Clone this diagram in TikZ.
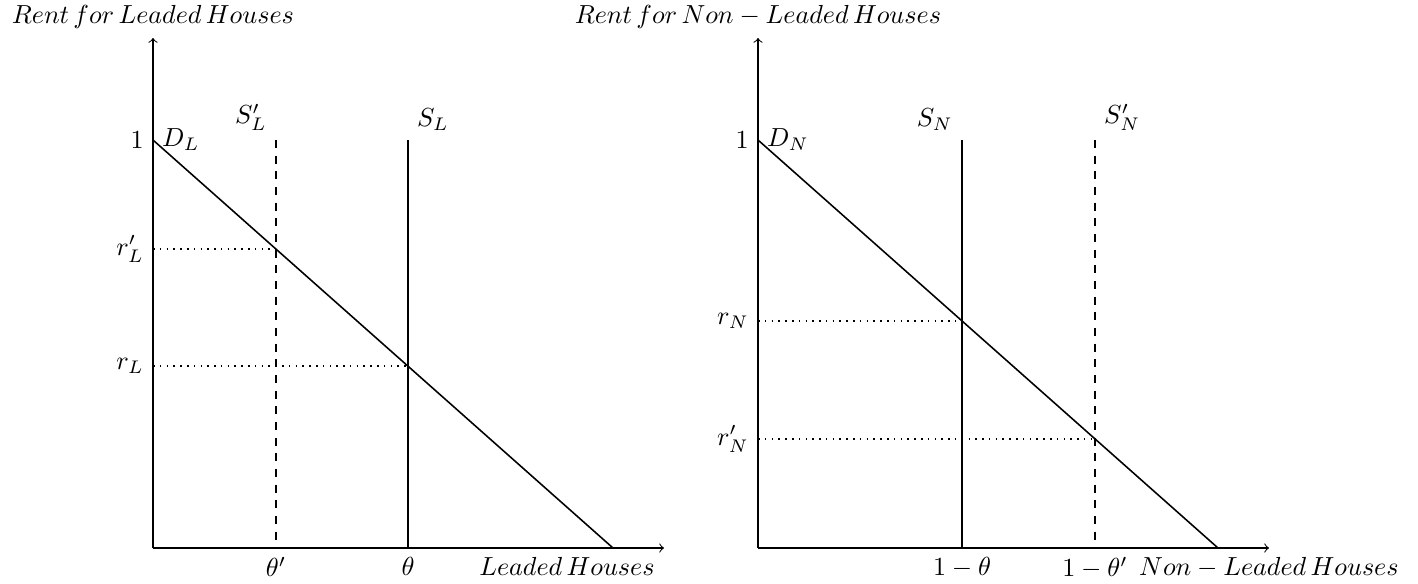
\documentclass[tikz,border=0pt]{standalone}
\tikzset{
  axisline/.style={->, line width=0.4pt},
  demandline/.style={line width=0.6pt},
  supplyline/.style={line width=0.6pt},
  supplyshift/.style={line width=0.6pt, dashed},
  guideline/.style={line width=0.6pt, dotted},
}
\begin{document}
\begin{tikzpicture}[x=0.013456cm, y=-0.013456cm]
\useasboundingbox (0,0) rectangle (1418,583);
% ---------- left panel ----------
\coordinate (Lo) at (153,548);
\coordinate (Ly) at (153,38);
\coordinate (Lx) at (664,548);
\coordinate (L1) at (153,140);
\coordinate (Ld) at (613,548);
\coordinate (Lsp) at (276,140);
\coordinate (Lspb) at (276,548);
\coordinate (Ls) at (408,140);
\coordinate (Lsb) at (408,548);
\coordinate (Lrp) at (153,249.1);
\coordinate (Lrpe) at (276,249.1);
\coordinate (Lr) at (153,366.2);
\coordinate (Lre) at (408,366.2);
\draw[axisline] (Lo) -- (Ly);
\draw[axisline] (Lo) -- (Lx);
\draw[demandline] (L1) -- (Ld);
\draw[supplyshift] (Lsp) -- (Lspb);
\draw[supplyline] (Ls) -- (Lsb);
\draw[guideline] (Lrp) -- (Lrpe);
\draw[guideline] (Lr) -- (Lre);
\node[above] (tL) at (Ly) {$Rent\,for\,Leaded\,Houses$};
\node[left] (oneL) at (L1) {$1$};
\node[right] (DL) at (L1) {$D_L$};
\node[above left] (SpL) at (Lsp) {$S'_L$};
\node[above right] (SL) at (Ls) {$S_L$};
\node[left] (rpL) at (Lrp) {$r'_L$};
\node[left] (rL) at (Lr) {$r_L$};
\node[below] (thp) at (Lspb) {$\theta'$};
\node[below] (th) at (Lsb) {$\theta$};
\node[below left] (xL) at (Lx) {$Leaded\,Houses$};
% ---------- right panel ----------
\coordinate (Ro) at (758,548);
\coordinate (Ry) at (758,38);
\coordinate (Rx) at (1269,548);
\coordinate (R1) at (758,140);
\coordinate (Rd) at (1218,548);
\coordinate (Rs) at (962,140);
\coordinate (Rsb) at (962,548);
\coordinate (Rsp) at (1095,140);
\coordinate (Rspb) at (1095,548);
\coordinate (Rr) at (758,321);
\coordinate (Rre) at (962,321);
\coordinate (Rrp) at (758,438.9);
\coordinate (Rrpe) at (1095,438.9);
\draw[axisline] (Ro) -- (Ry);
\draw[axisline] (Ro) -- (Rx);
\draw[demandline] (R1) -- (Rd);
\draw[supplyline] (Rs) -- (Rsb);
\draw[supplyshift] (Rsp) -- (Rspb);
\draw[guideline] (Rr) -- (Rre);
\draw[guideline] (Rrp) -- (Rrpe);
\node[above] (tR) at (Ry) {$Rent\,for\,Non-Leaded\,Houses$};
\node[left] (oneR) at (R1) {$1$};
\node[right] (DN) at (R1) {$D_N$};
\node[above left] (SN) at (Rs) {$S_N$};
\node[above right] (SpN) at (Rsp) {$S'_N$};
\node[left] (rN) at (Rr) {$r_N$};
\node[left] (rpN) at (Rrp) {$r'_N$};
\node[below] (omth) at (Rsb) {$1-\theta$};
\node[below] (omthp) at (Rspb) {$1-\theta'$};
\node[below] (xR) at (Rx) {$Non-Leaded\,Houses$};
\end{tikzpicture}
\end{document}
